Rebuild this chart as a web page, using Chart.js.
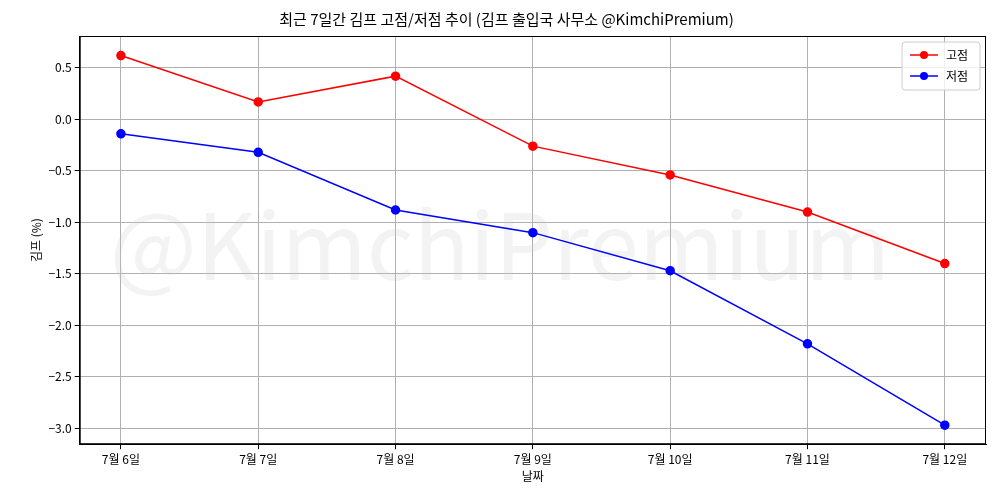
<!DOCTYPE html>
<html>
<head>
<meta charset="utf-8">
<script src="https://cdn.jsdelivr.net/npm/chart.js@4"></script>
<style>
  html, body { margin: 0; padding: 0; background: #fff; }
</style>
</head>
<body>
<canvas id="chart" width="1000" height="500"></canvas>
<script>
const days = ["7월 6일", "7월 7일", "7월 8일", "7월 9일", "7월 10일", "7월 11일", "7월 12일"];
const highValues = [0.62, 0.17, 0.42, -0.26, -0.54, -0.90, -1.40];
const lowValues = [-0.14, -0.32, -0.88, -1.10, -1.47, -2.18, -2.97];
const yTicks = [0.5, 0.0, -0.5, -1.0, -1.5, -2.0, -2.5, -3.0];

const FONT = "'Noto Sans CJK KR', 'Noto Sans', sans-serif";

//-----------------------------------------------------------------------------
// watermark, frame and matplotlib style legend
//-----------------------------------------------------------------------------
const extras = {
    id: "extras",
    beforeDatasetsDraw(chart) {
        const { ctx, chartArea } = chart;
        ctx.save();
        ctx.fillStyle = "rgba(200,200,200,0.22)";
        ctx.font = "92px " + FONT;
        ctx.textAlign = "center";
        ctx.textBaseline = "middle";
        ctx.fillText("@KimchiPremium", 500, 245);
        ctx.strokeStyle = "#000";
        ctx.lineWidth = 1;
        ctx.strokeRect(chartArea.left + 0.5, chartArea.top + 0.5,
                       chartArea.right - chartArea.left - 1, chartArea.bottom - chartArea.top - 1);
        ctx.restore();
    },
    afterDatasetsDraw(chart) {
        const { ctx, chartArea } = chart;
        const w = 78, h = 48;
        const x0 = chartArea.right - w - 6, y0 = chartArea.top + 6;
        ctx.save();
        ctx.fillStyle = "rgba(255,255,255,0.8)";
        ctx.strokeStyle = "#ccc";
        ctx.lineWidth = 1;
        ctx.beginPath();
        ctx.roundRect(x0, y0, w, h, 3);
        ctx.fill();
        ctx.stroke();
        chart.data.datasets.forEach((ds, i) => {
            const cy = y0 + 13 + i * 21;
            ctx.strokeStyle = ds.borderColor;
            ctx.lineWidth = 1.5;
            ctx.beginPath();
            ctx.moveTo(x0 + 8, cy);
            ctx.lineTo(x0 + 36, cy);
            ctx.stroke();
            ctx.fillStyle = ds.borderColor;
            ctx.beginPath();
            ctx.arc(x0 + 22, cy, 4, 0, Math.PI * 2);
            ctx.fill();
            ctx.fillStyle = "#000";
            ctx.font = "12px " + FONT;
            ctx.textBaseline = "middle";
            ctx.fillText(ds.label, x0 + 44, cy);
        });
        ctx.restore();
    }
};

function toPoints(values) {
    return values.map((v, i) => ({ x: i, y: v }));
}

new Chart(document.getElementById("chart"), {
    type: "line",
    data: {
        datasets: [
            { label: "고점", data: toPoints(highValues), borderColor: "#ff0000", backgroundColor: "#ff0000",
              borderWidth: 1.5, pointRadius: 4, pointHoverRadius: 4, tension: 0 },
            { label: "저점", data: toPoints(lowValues), borderColor: "#0000ff", backgroundColor: "#0000ff",
              borderWidth: 1.5, pointRadius: 4, pointHoverRadius: 4, tension: 0 }
        ]
    },
    options: {
        responsive: false,
        animation: false,
        devicePixelRatio: 1,
        layout: { padding: { top: 8, right: 14, left: 27, bottom: 16 } },
        plugins: {
            legend: { display: false },
            tooltip: { enabled: false },
            title: {
                display: true,
                text: "최근 7일간 김프 고점/저점 추이 (김프 출입국 사무소 @KimchiPremium)",
                color: "#000",
                font: { family: FONT, size: 15, weight: "normal" },
                padding: { top: 2, bottom: 8 }
            }
        },
        scales: {
            x: {
                type: "linear",
                min: -0.3, max: 6.3,
                afterBuildTicks(axis) { axis.ticks = days.map((d, i) => ({ value: i })); },
                ticks: {
                    callback: (v) => days[v],
                    maxRotation: 0,
                    autoSkip: false,
                    color: "#000",
                    font: { family: FONT, size: 12 }
                },
                grid: { color: "#b0b0b0", tickLength: 5, tickColor: "#000" },
                border: { color: "#000" },
                title: { display: true, text: "날짜", color: "#000", font: { family: FONT, size: 12 }, padding: 0 }
            },
            y: {
                min: -3.155, max: 0.81,
                afterBuildTicks(axis) { axis.ticks = yTicks.map(v => ({ value: v })); },
                ticks: {
                    callback: (v) => (v < 0 ? "\u2212" : "") + Math.abs(v).toFixed(1),
                    color: "#000",
                    font: { family: FONT, size: 12 }
                },
                grid: { color: "#b0b0b0", tickLength: 5, tickColor: "#000" },
                border: { color: "#000" },
                title: { display: true, text: "김프 (%)", color: "#000", font: { family: FONT, size: 12 }, padding: 2 }
            }
        }
    },
    plugins: [extras]
});
</script>
</body>
</html>
